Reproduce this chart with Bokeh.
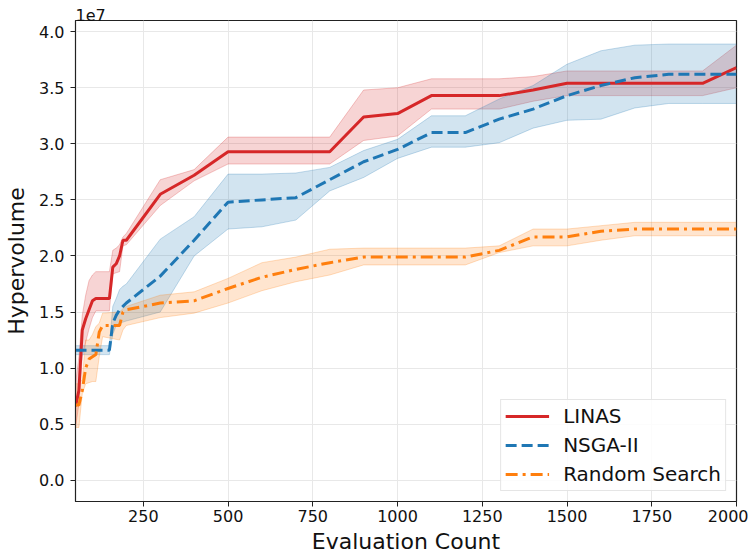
from bokeh.plotting import figure
from bokeh.models import (Range1d, FixedTicker, Legend, LegendItem,
                          NumeralTickFormatter)
from bokeh.embed import file_html
from bokeh.resources import INLINE

# Values in units of 1e7
linas_x = [50, 60, 70, 80, 90, 100, 110, 150, 160, 170, 180, 190, 200,
           300, 400, 500, 600, 700, 800, 900, 1000, 1100, 1200, 1300, 1400,
           1500, 1600, 1700, 1800, 1900, 2000]
linas_mean = [0.66, 0.80, 1.34, 1.44, 1.52, 1.60, 1.62, 1.62, 1.90, 1.93, 2.00, 2.14, 2.14,
              2.55, 2.72, 2.93, 2.93, 2.93, 2.93, 3.24, 3.27, 3.43, 3.43, 3.43, 3.48,
              3.54, 3.54, 3.54, 3.54, 3.54, 3.68]
linas_upper = [0.86, 1.10, 1.47, 1.65, 1.78, 1.83, 1.86, 1.86, 2.05, 2.07, 2.10, 2.17, 2.20,
               2.68, 2.77, 3.06, 3.06, 3.06, 3.06, 3.48, 3.50, 3.58, 3.58, 3.58, 3.60,
               3.65, 3.65, 3.65, 3.65, 3.65, 3.88]
linas_lower = [0.47, 0.68, 1.10, 1.23, 1.35, 1.45, 1.51, 1.51, 1.84, 1.85, 1.86, 2.09, 2.10,
               2.45, 2.67, 2.82, 2.82, 2.82, 2.82, 3.03, 3.07, 3.31, 3.31, 3.31, 3.38,
               3.43, 3.43, 3.43, 3.43, 3.43, 3.50]

nsga_x = [50, 150, 160, 170, 180, 190, 200,
          300, 400, 500, 600, 700, 800, 900, 1000, 1100, 1200, 1300, 1400,
          1500, 1600, 1700, 1800, 1900, 2000]
nsga_mean = [1.16, 1.16, 1.40, 1.47, 1.52, 1.55, 1.58,
             1.82, 2.14, 2.48, 2.50, 2.52, 2.68, 2.84, 2.95, 3.10, 3.10, 3.22, 3.31,
             3.43, 3.52, 3.59, 3.62, 3.62, 3.62]
nsga_upper = [1.20, 1.20, 1.55, 1.62, 1.70, 1.73, 1.75,
              2.15, 2.35, 2.73, 2.73, 2.74, 2.79, 2.94, 3.04, 3.25, 3.25, 3.40, 3.52,
              3.71, 3.83, 3.88, 3.89, 3.89, 3.89]
nsga_lower = [1.12, 1.12, 1.30, 1.38, 1.40, 1.41, 1.42,
              1.50, 2.00, 2.24, 2.26, 2.32, 2.58, 2.70, 2.87, 2.97, 2.97, 3.01, 3.14,
              3.21, 3.22, 3.32, 3.36, 3.36, 3.36]

rs_x = [50, 60, 70, 80, 90, 100, 110, 120, 130, 180, 190, 200,
        300, 400, 500, 600, 700, 800, 900, 1000, 1100, 1200, 1300, 1400,
        1500, 1600, 1700, 1800, 1900, 2000]
rs_mean = [0.67, 0.67, 0.80, 1.00, 1.08, 1.10, 1.12, 1.32, 1.38, 1.38, 1.50, 1.52,
           1.58, 1.60, 1.71, 1.81, 1.88, 1.94, 1.99, 1.99, 1.99, 1.99, 2.05, 2.17,
           2.17, 2.22, 2.24, 2.24, 2.24, 2.24]
rs_upper = [0.86, 0.86, 0.90, 1.25, 1.25, 1.30, 1.37, 1.40, 1.49, 1.50, 1.53, 1.55,
            1.65, 1.68, 1.80, 1.94, 1.99, 2.06, 2.07, 2.07, 2.07, 2.07, 2.09, 2.24,
            2.24, 2.27, 2.30, 2.30, 2.30, 2.30]
rs_lower = [0.47, 0.47, 0.77, 0.86, 0.87, 0.88, 0.88, 1.10, 1.28, 1.25, 1.34, 1.38,
            1.45, 1.49, 1.58, 1.69, 1.77, 1.83, 1.92, 1.92, 1.92, 1.92, 2.03, 2.09,
            2.09, 2.14, 2.18, 2.18, 2.18, 2.18]

x_ticks = [250, 500, 750, 1000, 1250, 1500, 1750, 2000]
y_ticks = [0.0, 0.5, 1.0, 1.5, 2.0, 2.5, 3.0, 3.5, 4.0]

RED, BLUE, ORANGE = "#d62728", "#1f77b4", "#ff7f0e"
FONT = "DejaVu Sans"

p = figure(frame_width=661, frame_height=481, output_backend="svg",
           toolbar_location=None, x_range=Range1d(50, 2000),
           y_range=Range1d(-0.19, 4.1), title="1e7",
           min_border_left=75, min_border_right=12, min_border_top=20,
           min_border_bottom=48)
p.title.align = "left"
p.title.text_font = FONT
p.title.text_font_size = "16px"
p.title.text_font_style = "normal"
p.title.text_color = "#111111"
p.title.standoff = 0
p.title.offset = 0

p.background_fill_color = "white"
p.border_fill_color = "white"
p.outline_line_color = "#222222"
p.outline_line_width = 1.2

for ax in (p.xaxis[0], p.yaxis[0]):
    ax.axis_line_color = "#222222"
    ax.major_tick_line_color = "#222222"
    ax.major_tick_out = 5
    ax.major_tick_in = 0
    ax.minor_tick_line_color = None
    ax.major_label_text_font = FONT
    ax.major_label_text_font_size = "16px"
    ax.major_label_text_color = "#111111"
    ax.axis_label_text_font = FONT
    ax.axis_label_text_font_size = "22px"
    ax.axis_label_text_font_style = "normal"
    ax.axis_label_text_color = "#111111"

p.xaxis.ticker = FixedTicker(ticks=x_ticks)
p.yaxis.ticker = FixedTicker(ticks=y_ticks)
p.yaxis.formatter = NumeralTickFormatter(format="0.0")
p.xaxis.axis_label = "Evaluation Count"
p.yaxis.axis_label = "Hypervolume"
p.xaxis.major_label_standoff = 3
p.xaxis.axis_label_standoff = 4
p.yaxis.major_label_standoff = 6
p.yaxis.axis_label_standoff = 7

p.xgrid.grid_line_color = "#e8e8e8"
p.ygrid.grid_line_color = "#e8e8e8"
p.xgrid.grid_line_width = 1
p.ygrid.grid_line_width = 1

series = [
    ("LINAS", linas_x, linas_mean, linas_upper, linas_lower, RED, "solid"),
    ("NSGA-II", nsga_x, nsga_mean, nsga_upper, nsga_lower, BLUE, "11 5"),
    ("Random Search", rs_x, rs_mean, rs_upper, rs_lower, ORANGE, "12 5 3 5"),
]

items = []
for name, xs, m, up, lo, col, dash in series:
    p.varea(x=xs, y1=lo, y2=up, fill_color=col, fill_alpha=0.2)
    p.line(xs, up, line_color=col, line_alpha=0.25, line_width=1)
    p.line(xs, lo, line_color=col, line_alpha=0.25, line_width=1)
for name, xs, m, up, lo, col, dash in series:
    r = p.line(xs, m, line_color=col, line_width=3, line_dash=dash)
    items.append(LegendItem(label=name, renderers=[r]))

legend = Legend(items=items, location="bottom_right")
legend.label_text_font = FONT
legend.label_text_font_size = "20px"
legend.label_text_color = "#111111"
legend.glyph_width = 44
legend.glyph_height = 20
legend.label_height = 20
legend.spacing = 5
legend.padding = 4
legend.margin = 10
legend.border_line_color = "#cccccc"
legend.border_line_width = 1
legend.background_fill_alpha = 0.85
legend.label_standoff = 14
p.add_layout(legend)

open("out.html", "w").write(file_html(p, INLINE))
